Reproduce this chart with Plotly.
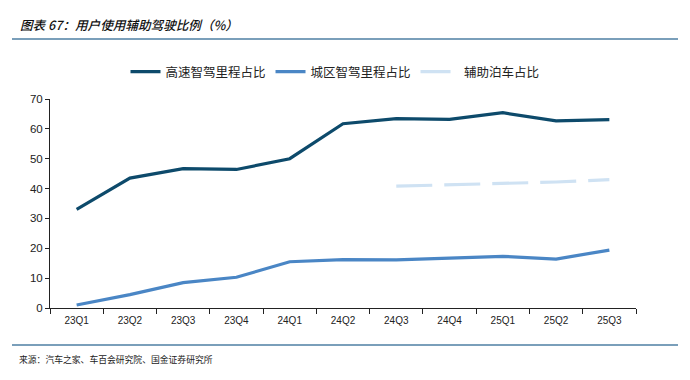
import plotly.graph_objects as go

quarters = ["23Q1", "23Q2", "23Q3", "23Q4", "24Q1", "24Q2", "24Q3", "24Q4", "25Q1", "25Q2", "25Q3"]
highway = [33.0, 43.5, 46.7, 46.4, 50.0, 61.7, 63.4, 63.2, 65.4, 62.7, 63.1]
city = [1.0, 4.5, 8.5, 10.3, 15.5, 16.2, 16.1, 16.7, 17.3, 16.4, 19.4]
parking_q = ["24Q3", "24Q4", "25Q1", "25Q2", "25Q3"]
parking = [40.8, 41.2, 41.6, 42.2, 43.0]

# page body adds an 8px offset; figure is sized/positioned to compensate
OFF = 8
W, H = 690 - OFF, 380 - OFF
PL, PR, PT, PB = 50 - OFF, 636 - OFF, 99 - OFF, 308 - OFF
PW, PH = PR - PL, PB - PT

fig = go.Figure()
fig.add_trace(go.Scatter(x=quarters, y=highway, mode="lines", name="高速智驾里程占比",
                         line=dict(color="#0D4A6B", width=3.2)))
fig.add_trace(go.Scatter(x=quarters, y=city, mode="lines", name="城区智驾里程占比",
                         line=dict(color="#4A86C5", width=3.2)))
fig.add_trace(go.Scatter(x=parking_q, y=parking, mode="lines", name="   辅助泊车占比",
                         line=dict(color="#CFE2F3", width=3.2, dash="36px,12px")))


def px(x):
    return (x - OFF - PL) / PW


def py(y):
    return (PB - (y - OFF)) / PH


fig.update_layout(
    width=W, height=H,
    margin=dict(l=PL, r=W - PR, t=PT, b=H - PB, autoexpand=False),
    plot_bgcolor="white", paper_bgcolor="white",
    showlegend=True,
    legend=dict(orientation="h", xref="container", yref="container",
                x=(335 - OFF) / W, xanchor="center", y=1 - (72 - OFF) / H, yanchor="middle",
                font=dict(family="Noto Sans CJK SC", size=12.5, color="#222"),
                itemwidth=30, tracegroupgap=0),
    xaxis=dict(type="category", range=[-0.5, 10.5], showgrid=False, showline=True,
               linecolor="#222", linewidth=1,
               ticks="outside", tickson="boundaries", ticklen=5, tickcolor="#222",
               ticklabelstandoff=3,
               tickfont=dict(family="Liberation Sans, Arial", size=10, color="#222")),
    yaxis=dict(range=[0, 70], dtick=10, showgrid=False, showline=True, linecolor="#222", linewidth=1,
               ticks="outside", ticklen=4, tickcolor="#222", zeroline=False,
               tickfont=dict(family="Liberation Sans, Arial", size=11.5, color="#222")),
    shapes=[
        dict(type="line", xref="paper", yref="paper", x0=px(12), x1=px(678),
             y0=py(39), y1=py(39), line=dict(color="#4E7FA3", width=1.5)),
        dict(type="line", xref="paper", yref="paper", x0=px(12), x1=px(678),
             y0=py(345), y1=py(345), line=dict(color="#4E7FA3", width=1.5)),
    ],
    annotations=[
        dict(text="<i>图表 67：用户使用辅助驾驶比例（%）</i>", xref="paper", yref="paper",
             x=px(18), y=py(25), xanchor="left", yanchor="middle", showarrow=False,
             font=dict(family="Noto Sans CJK SC", size=12.6, color="#111", weight=500)),
        dict(text="来源：汽车之家、车百会研究院、国金证券研究所", xref="paper", yref="paper",
             x=px(17), y=py(359), xanchor="left", yanchor="middle", showarrow=False,
             font=dict(family="Noto Sans CJK SC", size=8.8, color="#222")),
    ],
)

fig.write_html("out.html")
